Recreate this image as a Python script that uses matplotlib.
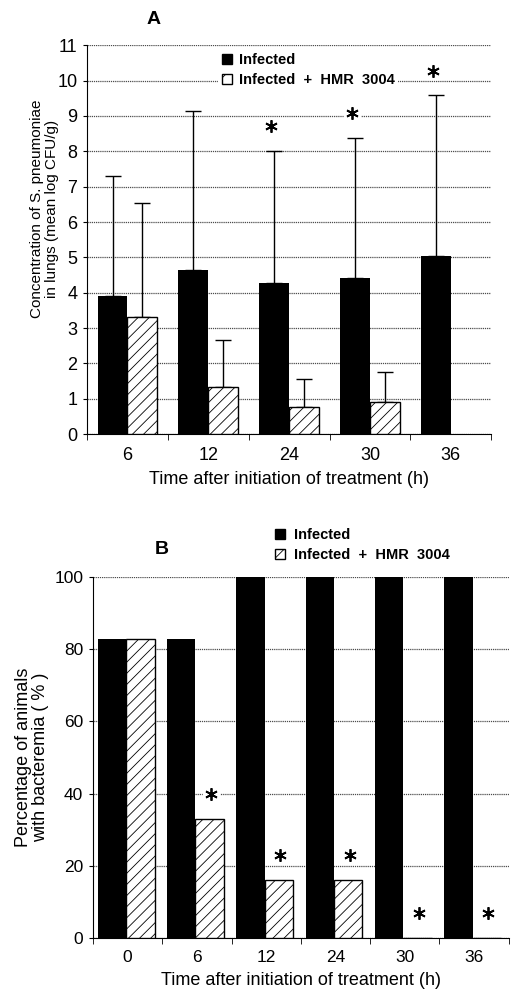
import matplotlib
matplotlib.use("Agg")
import matplotlib.pyplot as plt
import numpy as np
from matplotlib.patches import Patch

plt.rcParams["font.family"] = ["Liberation Sans", "DejaVu Sans"]
plt.rcParams["hatch.linewidth"] = 0.6

# ---------------------------------------------------------------------------
# Data
# ---------------------------------------------------------------------------

# Panel A: lung concentration (mean log CFU/g)
times_a = ["6", "12", "24", "30", "36"]
infected_a = [3.9, 4.65, 4.27, 4.43, 5.03]
infected_a_top = [7.3, 9.13, 8.02, 8.37, 9.58]
treated_a = [3.3, 1.33, 0.78, 0.9, np.nan]
treated_a_top = [6.55, 2.67, 1.57, 1.75, np.nan]
star_a = [False, False, True, True, True]

# Panel B: percentage of animals with bacteremia
times_b = ["0", "6", "12", "24", "30", "36"]
infected_b = [83, 83, 100, 100, 100, 100]
treated_b = [83, 33, 16, 16, 0, 0]
star_b = [False, True, True, True, True, True]

LABEL_INF = "Infected"
LABEL_TRT = "Infected  +  HMR  3004"
XLABEL = "Time after initiation of treatment (h)"


def style_axes(ax, n, ymax, step, labelsize):
    ax.set_xlim(-0.5, n - 0.5)
    ax.set_ylim(0, ymax)
    ax.set_yticks(np.arange(0, ymax + step / 2, step))
    ax.set_xticks(np.arange(-0.5, n), minor=True)
    ax.tick_params(axis="x", which="major", length=0, pad=9, labelsize=labelsize)
    ax.tick_params(axis="x", which="minor", length=4, direction="out")
    ax.tick_params(axis="y", length=3, labelsize=labelsize, pad=4)
    ax.grid(axis="y", color="0.3", linestyle=(0, (1, 0.7)), linewidth=0.9)
    ax.set_axisbelow(True)
    for side in ("top", "right"):
        ax.spines[side].set_visible(False)


def star(ax, x, y):
    # white patch that cuts the grid line, then the six-point asterisk
    ax.plot(x, y, marker="s", markersize=11, color="white", zorder=5, clip_on=False)
    ax.plot(x, y, marker=(6, 2, 0), markersize=9, markeredgewidth=1.3,
            color="black", zorder=6, clip_on=False)


fig = plt.figure(figsize=(5.31, 10.05), dpi=100)

# ---------------------------------------------------------------------------
# Panel A
# ---------------------------------------------------------------------------
ax = fig.add_axes([0.164, 0.568, 0.761, 0.387])
x = np.arange(len(times_a))
w = 0.37
inf = np.array(infected_a)
trt = np.array(treated_a)
ax.bar(x - w / 2, inf, w, color="black", zorder=3)
ax.bar(x + w / 2, trt, w, color="white", edgecolor="black", hatch="///",
       linewidth=1.0, zorder=3)
ax.errorbar(x - w / 2, inf, yerr=[np.zeros_like(inf), np.array(infected_a_top) - inf],
            fmt="none", ecolor="black", elinewidth=1.0, capsize=5.5, capthick=1.0, zorder=2)
ok = ~np.isnan(trt)
ax.errorbar((x + w / 2)[ok], trt[ok],
            yerr=[np.zeros(ok.sum()), (np.array(treated_a_top) - trt)[ok]],
            fmt="none", ecolor="black", elinewidth=1.0, capsize=5.5, capthick=1.0, zorder=2)
for i, s in enumerate(star_a):
    if s:
        star(ax, x[i] - w / 2 - 0.04, infected_a_top[i] + 0.7)
style_axes(ax, len(times_a), 11, 1, 13)
ax.set_xticks(x)
ax.set_xticklabels(times_a)
ax.set_xlabel(XLABEL, fontsize=13, labelpad=5)
ax.set_ylabel("Concentration of S. pneumoniae\nin lungs (mean log CFU/g)",
              fontsize=11, linespacing=1.05)
ax.yaxis.set_label_coords(-0.07, 0.58)
handles = [Patch(facecolor="black", edgecolor="black"),
           Patch(facecolor="white", edgecolor="black", hatch="//")]
leg = ax.legend(handles, [LABEL_INF, LABEL_TRT], loc="upper left",
                bbox_to_anchor=(0.325, 0.99), frameon=True, fancybox=False,
                edgecolor="none", facecolor="white", framealpha=1,
                handlelength=0.7, handleheight=0.7, handletextpad=0.45,
                labelspacing=0.45, borderpad=0.25, borderaxespad=0,
                prop=dict(weight="bold", size=10.5))
leg.set_zorder(6)
fig.text(0.29, 0.981, "A", fontsize=14, weight="bold", ha="center", va="center")

# ---------------------------------------------------------------------------
# Panel B
# ---------------------------------------------------------------------------
ax = fig.add_axes([0.175, 0.0667, 0.783, 0.359])
x = np.arange(len(times_b))
w = 0.41
ax.bar(x - w / 2 - 0.02, infected_b, w, color="black", zorder=3)
ax.bar(x + w / 2 - 0.02, treated_b, w, color="white", edgecolor="black",
       hatch="///", linewidth=1.0, zorder=3)
for i, s in enumerate(star_b):
    if s:
        star(ax, x[i] + w / 2, treated_b[i] + 7)
style_axes(ax, len(times_b), 100, 20, 12.5)
ax.set_xticks(x)
ax.set_xticklabels(times_b)
ax.set_xlabel(XLABEL, fontsize=13, labelpad=5)
ax.set_ylabel("Percentage of animals\nwith bacteremia ( % )", fontsize=13,
              linespacing=1.0)
leg = ax.legend(handles, [LABEL_INF, LABEL_TRT], loc="upper left",
                bbox_to_anchor=(0.43, 1.145), frameon=False,
                handlelength=0.7, handleheight=0.7, handletextpad=0.6,
                labelspacing=0.45, borderpad=0.2, borderaxespad=0,
                prop=dict(weight="bold", size=10.5))
fig.text(0.305, 0.453, "B", fontsize=14, weight="bold", ha="center", va="center")

fig.savefig("out.png", dpi=100)
